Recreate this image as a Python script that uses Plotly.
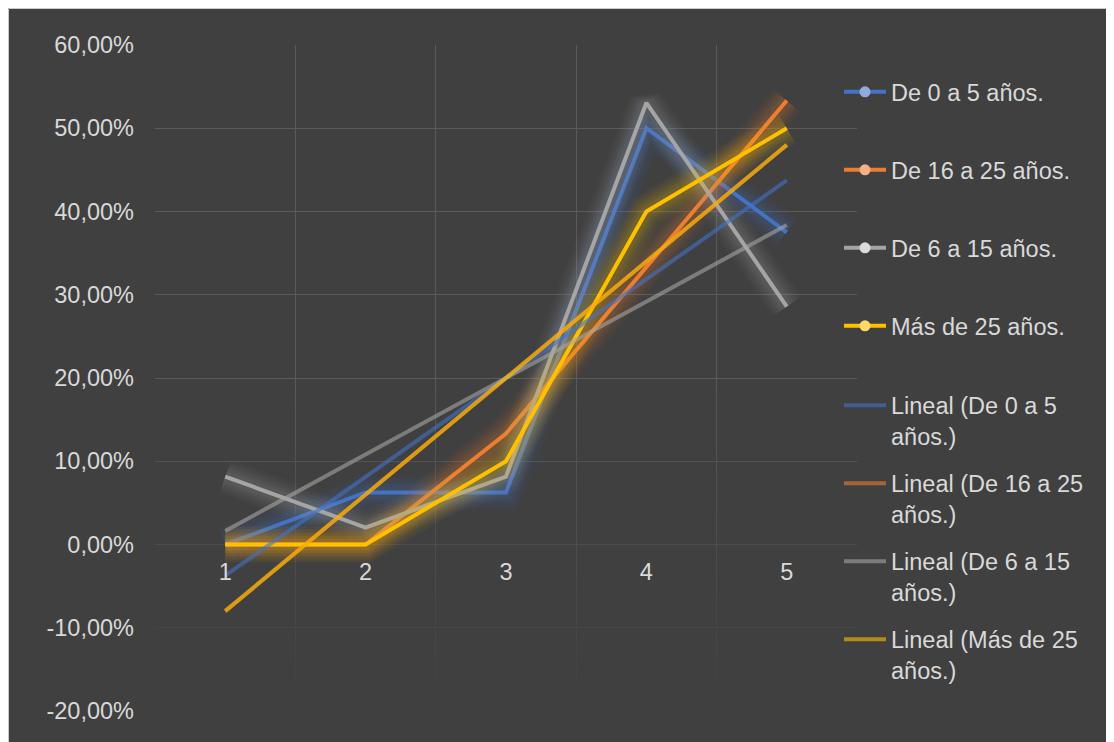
import plotly.graph_objects as go

# ---------------- data ----------------
categories = [1, 2, 3, 4, 5]
x_tick_labels = ["1", "2", "3", "4", "5"]
y_tick_values = [-20, -10, 0, 10, 20, 30, 40, 50, 60]
y_tick_labels = ["-20,00%", "-10,00%", "0,00%", "10,00%", "20,00%",
                 "30,00%", "40,00%", "50,00%", "60,00%"]

series_names = ["De 0 a 5 años.", "De 16 a 25 años.", "De 6 a 15 años.", "Más de 25 años."]
de_0_a_5 = [0.0, 6.25, 6.25, 50.0, 37.5]
de_16_a_25 = [0.0, 0.0, 13.33, 33.33, 53.33]
de_6_a_15 = [8.16, 2.04, 8.16, 53.06, 28.57]
mas_de_25 = [0.0, 0.0, 10.0, 40.0, 50.0]

trend_names = ["Lineal (De 0 a 5<br>años.)", "Lineal (De 16 a 25<br>años.)",
               "Lineal (De 6 a 15<br>años.)", "Lineal (Más de 25<br>años.)"]
trend_x = [1, 5]
trend_de_0_a_5 = [-3.75, 43.75]
trend_de_16_a_25 = [-8.0, 48.0]
trend_de_6_a_15 = [1.63, 38.37]
trend_mas_de_25 = [-8.0, 48.0]

# ---------------- style ----------------
OFF = 8  # page margin around the figure div
W, H = 1114 - OFF, 742 - OFF
ML = 155 - OFF
MT = 45 - OFF
PLOT_R = 857 - OFF
PLOT_B = 711 - OFF
MR = W - PLOT_R
MB = H - PLOT_B
PW, PH = W - ML - MR, H - MT - MB

def px(p):
    """page pixel x -> paper x"""
    return (p - OFF - ML) / PW

def py(p):
    """page pixel y -> paper y"""
    return (PLOT_B - (p - OFF)) / PH

BG = "#404040"
GRID = "#5A5A5A"
TXT = "#D9D9D9"
FONT = "Liberation Sans, Arial, sans-serif"
FS = 23.5

rgb = [(68, 114, 196), (237, 125, 49), (165, 165, 165), (255, 192, 0)]
marker_fill = ["#8FAADC", "#F4B183", "#DBDBDB", "#FFD966"]
series_vals = [de_0_a_5, de_16_a_25, de_6_a_15, mas_de_25]
trend_vals = [trend_de_0_a_5, trend_de_16_a_25, trend_de_6_a_15, trend_mas_de_25]

def rgba(c, a):
    return "rgba(%d,%d,%d,%.3f)" % (c[0], c[1], c[2], a)

fig = go.Figure()

# series with soft glow
glow_layers = [(36, 0.04), (30, 0.05), (24, 0.06), (18, 0.07), (12, 0.08)]
for i in range(4):
    for w, a in glow_layers:
        fig.add_trace(go.Scatter(x=categories, y=series_vals[i], mode="lines",
                                 line=dict(color=rgba(rgb[i], a), width=w),
                                 showlegend=False, hoverinfo="skip"))
    fig.add_trace(go.Scatter(x=categories, y=series_vals[i], mode="lines",
                             line=dict(color=rgba(rgb[i], 1), width=4),
                             name=series_names[i], showlegend=False))

# trend lines
for i in range(4):
    fig.add_trace(go.Scatter(x=trend_x, y=trend_vals[i], mode="lines",
                             line=dict(color=rgba(rgb[i], 0.6), width=4),
                             name=trend_names[i], showlegend=False))

# legend entries (one legend each, placed like the original)
legend_centers = [92, 170, 248, 326, 421, 499, 577, 655]
legend_ids = ["legend"] + ["legend%d" % k for k in range(2, 9)]
for i in range(4):
    fig.add_trace(go.Scatter(x=[None], y=[None], mode="lines+markers",
                             line=dict(color=rgba(rgb[i], 1), width=4),
                             marker=dict(color=marker_fill[i], size=11),
                             name=series_names[i], legend=legend_ids[i]))
for i in range(4):
    fig.add_trace(go.Scatter(x=[None], y=[None], mode="lines",
                             line=dict(color=rgba(rgb[i], 0.6), width=4),
                             name=trend_names[i], legend=legend_ids[4 + i]))

layout_legends = {}
for k, lid in enumerate(legend_ids):
    layout_legends[lid] = dict(
        x=px(839), y=py(legend_centers[k]), xanchor="left", yanchor="middle",
        bgcolor="rgba(0,0,0,0)", borderwidth=0, itemwidth=42, valign="top",
        font=dict(family=FONT, size=FS, color=TXT))

# grid fade toward the bottom of the plot area
shapes = []
edges = [18.75 - 2.5 * k for k in range(17)]
for k in range(len(edges) - 1):
    top, bot = edges[k], edges[k + 1]
    mid = (top + bot) / 2
    op = min(1.0, max(0.0, (20 - mid) / 40.0))
    if op <= 0:
        continue
    shapes.append(dict(type="rect", xref="x", yref="y", x0=0.5, x1=5.5,
                       y0=max(bot, -20.5), y1=top, layer="between",
                       fillcolor=BG, opacity=op, line=dict(width=0)))

# chart border (top / left edges visible)
shapes.append(dict(type="line", xref="paper", yref="paper",
                   x0=px(OFF + 0.5), x1=px(OFF + W), y0=py(OFF + 0.5), y1=py(OFF + 0.5),
                   layer="above", line=dict(color="#C9C9C9", width=1)))
shapes.append(dict(type="line", xref="paper", yref="paper",
                   x0=px(OFF + 0.5), x1=px(OFF + 0.5), y0=py(OFF + 0.5), y1=py(OFF + H),
                   layer="above", line=dict(color="#C9C9C9", width=1)))

fig.update_layout(
    width=W, height=H,
    margin=dict(l=ML, r=MR, t=MT, b=MB, pad=0),
    paper_bgcolor=BG, plot_bgcolor="rgba(0,0,0,0)",
    font=dict(family=FONT, size=FS, color=TXT),
    shapes=shapes,
    hovermode=False,
    **layout_legends,
)

fig.update_xaxes(range=[0.5, 5.5], tickmode="array", tickvals=categories,
                 ticktext=x_tick_labels, showgrid=False, zeroline=False,
                 showline=False, ticks="", anchor="free", position=0.25,
                 ticklabelstandoff=11,
                 minor=dict(tick0=0.5, dtick=1, showgrid=True, gridcolor=GRID,
                            gridwidth=1.3, ticks=""),
                 tickfont=dict(family=FONT, size=FS, color=TXT))
fig.update_yaxes(range=[-20, 60], tickmode="array", tickvals=y_tick_values,
                 ticktext=y_tick_labels, showgrid=True, gridcolor=GRID, gridwidth=1.3,
                 zeroline=False, showline=False, ticks="", ticklabelstandoff=20,
                 tickfont=dict(family=FONT, size=FS, color=TXT))

fig.write_html("out.html")
